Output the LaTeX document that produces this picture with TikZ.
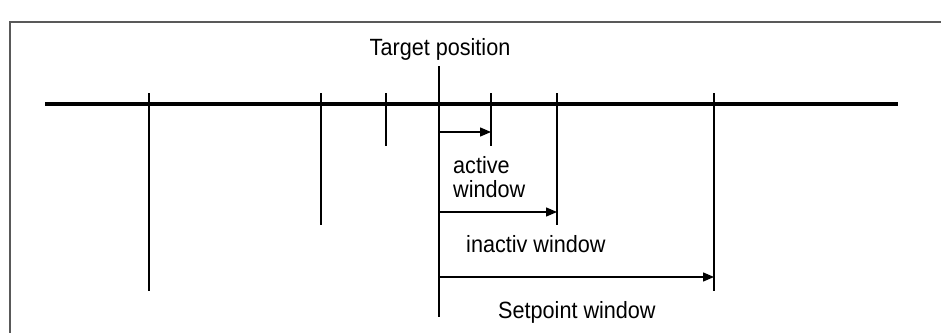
\documentclass[tikz,border=0pt]{standalone}
\usepackage{fontspec}
\setmainfont[FakeStretch=0.92]{Liberation Sans}
\usetikzlibrary{arrows.meta}

\begin{document}
\begin{tikzpicture}[x=1pt,y=-1pt,
    tick/.style={line width=1.3pt},
    win/.style={line width=1.3pt,-{Triangle[length=11pt,width=9pt]}},
    lbl/.style={font=\fontsize{23.5}{25}\selectfont,inner sep=0pt}]
    \useasboundingbox (0,0) rectangle (941,332);
    \clip (0,0) rectangle (941,332);
    \draw[line width=2.5pt,black!65] (10,22) rectangle (960,350);

    \draw[line width=3.5pt] (45,104) coordinate (axl) -- (898,104) coordinate (axr);

    % ticks on the axis
    \foreach \n/\x/\y in {a/149/291,b/321/225,c/386/146,d/491/146,e/557/225,f/714/291}
        \draw[tick] (\x,93) coordinate (top-\n) -- (\x,\y) coordinate (bot-\n);
    \draw[tick] (439,66) coordinate (top-tp) -- (439,317) coordinate (bot-tp);

    \node[lbl,anchor=base] (tp) at (440,55) {Target position};

    % windows
    \coordinate (r1) at (0,132);
    \coordinate (r2) at (0,212);
    \coordinate (r3) at (0,277);
    \draw[win] (top-tp |- r1) -- (top-d |- r1);
    \draw[win] (top-tp |- r2) -- (top-e |- r2);
    \draw[win] (top-tp |- r3) -- (top-f |- r3);

    \node[lbl,anchor=base west] (act) at (453,173) {active};
    \node[lbl,anchor=base west] (actw) at (453,197) {window};
    \node[lbl,anchor=base west] (inact) at (466,252) {inactiv window};
    \node[lbl,anchor=base west] (setp) at (498,318) {Setpoint window};
\end{tikzpicture}
\end{document}
